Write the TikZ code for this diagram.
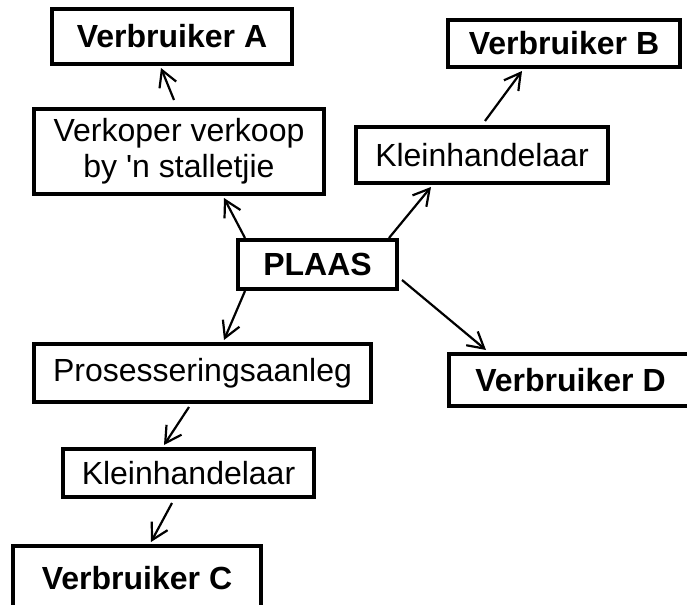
\documentclass[tikz,border=0pt]{standalone}
\usepackage{fontspec}
\setmainfont{Liberation Sans}
\usepackage{tikz}
\usetikzlibrary{arrows.meta}
\usetikzlibrary{calc}

\begin{document}
\begin{tikzpicture}[x=0.5pt,y=-0.5pt,
    box/.style={draw, line width=2pt, inner sep=0pt, align=center,
      font=\fontsize{16}{18}\selectfont},
    boldbox/.style={box, font=\fontsize{16}{18}\selectfont\bfseries},
    flow/.style={line width=1.1pt, -{Straight Barb[length=8pt,width=9pt]}}]
    \clip (0,0) rectangle (687,605);
    % Boxes
    \node[boldbox, minimum width=120pt, minimum height=27.5pt] (verbA) at (172,36.5) {Verbruiker A};
    \node[box, minimum width=145pt, minimum height=42.5pt] (verkoper) at (179,151.5) {Verkoper verkoop\\by \textquotesingle n stalletjie};
    \node[boldbox, minimum width=116pt, minimum height=23.5pt] (verbB) at (564,43.5) {Verbruiker B};
    \node[box, minimum width=126pt, minimum height=28pt] (kleinB) at (482,155) {Kleinhandelaar};
    \node[boldbox, minimum width=79.5pt, minimum height=24.5pt] (plaas) at (317.5,264.5) {PLAAS};
    \node[boldbox, minimum width=121.5pt, minimum height=26pt] (verbD) at (570.5,380) {Verbruiker D};
    \node[box, minimum width=168.5pt, minimum height=29pt] (pros) at (202.5,373) {Prosesseringsaanleg};
    \node[box, minimum width=125.5pt, minimum height=24pt] (kleinC) at (188.5,473) {Kleinhandelaar};
    \node[boldbox, minimum width=124pt, minimum height=32pt] (verbC) at (137,578) {Verbruiker C};
    %
    % Arrows from the farm
    \draw[flow] ($(plaas.north west)+(9,0)$) -- ($(verkoper.south west)+(192,2)$);
    \draw[flow] ($(plaas.north east)+(-10,0)$) -- ($(kleinB.south west)+(77,2)$);
    \draw[flow] ($(plaas.south east)+(3,-11)$) -- ($(verbD.north west)+(39,-2)$);
    \draw[flow] ($(plaas.south west)+(9,0)$) -- ($(pros.north west)+(192,-2)$);
    % Arrows further along the chain
    \draw[flow] ($(verkoper.north west)+(142,-7)$) -- ($(verbA.south west)+(111,2)$);
    \draw[flow] ($(kleinB.north west)+(131,-4)$) -- ($(verbB.south west)+(76,2)$);
    \draw[flow] ($(pros.south west)+(157,3)$) -- ($(kleinC.north west)+(103,-2)$);
    \draw[flow] ($(kleinC.south west)+(111,4)$) -- ($(verbC.north west)+(140,-2)$);
\end{tikzpicture}
\end{document}
